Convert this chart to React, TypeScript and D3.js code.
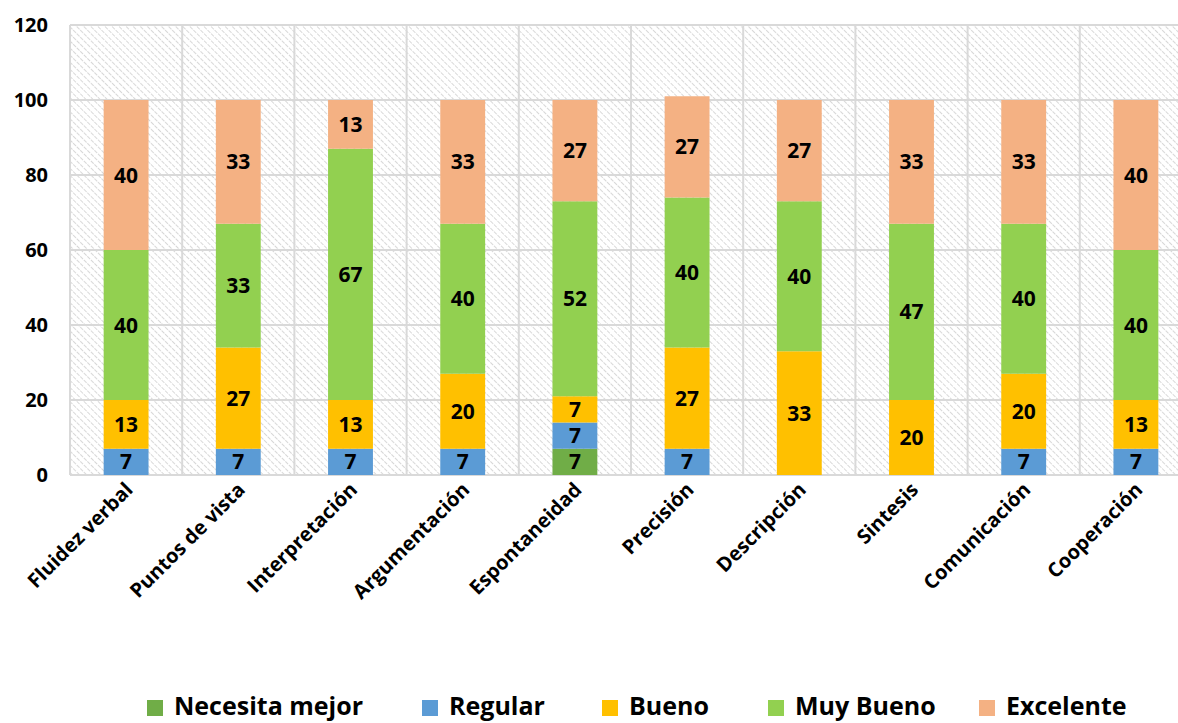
import React from "react";
import * as d3 from "d3";

const categories = ["Fluidez verbal", "Puntos de vista", "Interpretación", "Argumentación", "Espontaneidad", "Precisión", "Descripción", "Sintesis", "Comunicación", "Cooperación"];
const seriesNames = ["Necesita mejor", "Regular", "Bueno", "Muy Bueno", "Excelente"];
const necesitaMejor = [0, 0, 0, 0, 7, 0, 0, 0, 0, 0];
const regular = [7, 7, 7, 7, 7, 7, 0, 0, 7, 7];
const bueno = [13, 27, 13, 20, 7, 27, 33, 20, 20, 13];
const muyBueno = [40, 33, 67, 40, 52, 40, 40, 47, 40, 40];
const excelente = [40, 33, 13, 33, 27, 27, 27, 33, 33, 40];
const colors = ["#70ad47", "#5b9bd5", "#ffc000", "#92d050", "#f4b183"];
const yTicks = [0, 20, 40, 60, 80, 100, 120];

const W = 1178, H = 723;
const left = 70, top = 25, bottom = 475, right = 1192;
const FONT = "'Open Sans', 'Noto Sans', sans-serif";

export default function App() {
  const values = [necesitaMejor, regular, bueno, muyBueno, excelente];
  const x = d3.scaleBand<string>().domain(categories).range([left, right]).paddingInner(0.6).paddingOuter(0.3);
  const xg = d3.scaleBand<string>().domain(categories).range([left, right]);
  const y = d3.scaleLinear().domain([0, 120]).range([bottom, top]);
  const rows = categories.map((c, i) => {
    const r: any = { cat: c };
    seriesNames.forEach((s, k) => (r[s] = values[k][i]));
    return r;
  });
  const stacked = d3.stack<any>().keys(seriesNames)(rows);
  const legendX = [147, 422, 602, 768, 979];

  return (
    <svg width={W} height={H} style={{ position: "absolute", left: 0, top: 0, background: "#fff" }}>
      <defs>
        <pattern id="hatch" patternUnits="userSpaceOnUse" width={5} height={5} patternTransform="rotate(-45)">
          <rect width={5} height={5} fill="#fff" />
          <line x1={0} y1={0} x2={0} y2={5} stroke="#cfcfcf" strokeWidth={1.6} strokeDasharray="2 1" />
        </pattern>
      </defs>
      <rect x={left} y={top} width={right - left} height={bottom - top} fill="url(#hatch)" />
      {yTicks.map((t) => (
        <line key={"g" + t} x1={left} x2={right} y1={y(t)} y2={y(t)} stroke="#d9d9d9" strokeWidth={2} />
      ))}
      {categories.map((c, i) => (
        <line key={"v" + i} x1={xg(c)!} x2={xg(c)!} y1={top} y2={bottom} stroke="#d9d9d9" strokeWidth={2} />
      ))}
      {yTicks.map((t) => (
        <text key={"t" + t} x={48} y={y(t)} dy="0.35em" textAnchor="end" fontFamily={FONT} fontWeight="bold" fontSize={20} fill="#000">
          {t}
        </text>
      ))}
      {stacked.map((layer, k) => (
        <g key={layer.key}>
          {layer.map((d, i) => {
            const v = d[1] - d[0];
            if (v <= 0) return null;
            const bx = x(categories[i])!;
            return (
              <g key={i}>
                <rect x={bx} y={y(d[1])} width={x.bandwidth()} height={y(d[0]) - y(d[1])} fill={colors[k]} />
                <text x={bx + x.bandwidth() / 2} y={(y(d[0]) + y(d[1])) / 2} dy="0.36em" textAnchor="middle" fontFamily={FONT} fontWeight="bold" fontSize={21} fill="#000">
                  {v}
                </text>
              </g>
            );
          })}
        </g>
      ))}
      {categories.map((c) => {
        const cx = x(c)! + x.bandwidth() / 2 + 8;
        return (
          <text key={"x" + c} transform={`translate(${cx},${491}) rotate(-45)`} textAnchor="end" fontFamily={FONT} fontWeight="bold" fontSize={20} fill="#000">
            {c}
          </text>
        );
      })}
      {seriesNames.map((s, k) => (
        <g key={"l" + s}>
          <rect x={legendX[k]} y={700} width={16} height={16} fill={colors[k]} />
          <text x={legendX[k] + 27} y={715} fontFamily={FONT} fontWeight="bold" fontSize={25} fill="#000">
            {s}
          </text>
        </g>
      ))}
    </svg>
  );
}
